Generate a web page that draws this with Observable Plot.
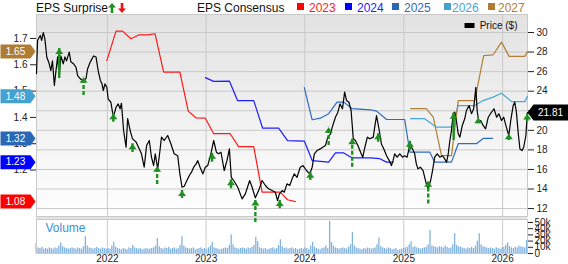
<!DOCTYPE html>
<html><head><meta charset="utf-8">
<script src="https://cdn.jsdelivr.net/npm/d3@7"></script>
<script src="https://cdn.jsdelivr.net/npm/@observablehq/plot@0.6"></script>
<style>
body{margin:0;background:#fff;font-family:"Liberation Sans",Arial,sans-serif;}
#chart{position:relative;width:568px;height:264px;overflow:hidden;background:#fff}
.h{position:absolute;top:1px;font-size:12px;line-height:14px;white-space:nowrap;color:#111}
.sq{position:absolute;top:3px;width:7px;height:7px}
</style></head><body>
<div id="chart">
  <div class="h" style="left:36px">EPS Surprise</div>
  <svg style="position:absolute;left:108px;top:3px" width="8" height="10"><polygon points="4,0 8,4.5 5.3,4.5 5.3,10 2.7,10 2.7,4.5 0,4.5" fill="#1f8f1f"/></svg>
  <svg style="position:absolute;left:118px;top:3px" width="8" height="10"><polygon points="4,10 8,5.5 5.3,5.5 5.3,0 2.7,0 2.7,5.5 0,5.5" fill="#ee1111"/></svg>
  <div class="h" style="left:197px">EPS Consensus</div>
</div>
<script>
// ---------- data ----------
const yearTicks = ["2022-01-01","2023-01-01","2024-01-01","2025-01-01","2026-01-01"];
const priceTicks = [12,14,16,18,20,22,24,26,28,30];
const epsTicks = [1.2,1.3,1.4,1.5,1.6,1.7];
const volumeTicks = [0,10,20,30,40,50];
const lastPrice = 21.81;

const price = [
["2021-04-14",25.8],["2021-04-18",29.2],["2021-04-28",29.7],["2021-05-03",29.2],["2021-05-09",30.0],["2021-05-15",29.35],
["2021-05-22",27.5],["2021-05-31",26.8],["2021-06-06",26.1],["2021-06-12",27.1],["2021-06-19",24.6],["2021-06-25",26.1],
["2021-07-01",27.5],["2021-07-07",25.4],["2021-07-13",27.6],["2021-07-22",26.8],["2021-07-28",27.5],["2021-08-03",27.1],
["2021-08-13",28.0],["2021-08-19",27.0],["2021-08-29",26.8],["2021-09-07",26.45],["2021-09-13",25.6],["2021-09-23",25.26],
["2021-10-05",25.1],["2021-10-14",25.3],["2021-10-20",26.3],["2021-10-30",27.0],["2021-11-11",27.6],["2021-11-20",27.5],
["2021-11-28",26.1],["2021-12-06",25.1],["2021-12-12",24.75],["2021-12-17",24.07],["2021-12-23",24.75],["2021-12-30",24.4],
["2022-01-04",23.2],["2022-01-14",22.87],["2022-01-23",21.34],["2022-02-02",22.36],["2022-02-10",22.7],["2022-02-17",22.2],
["2022-02-22",22.77],["2022-03-02",19.98],["2022-03-11",18.27],["2022-03-17",21.2],["2022-03-26",20.0],["2022-04-04",19.13],
["2022-04-17",18.8],["2022-04-29",18.1],["2022-05-07",17.6],["2022-05-17",16.23],["2022-05-26",18.45],["2022-06-05",18.96],
["2022-06-13",17.25],["2022-06-21",16.4],["2022-06-27",17.6],["2022-07-06",16.06],["2022-07-13",17.6],["2022-07-20",19.3],
["2022-07-30",18.96],["2022-08-12",19.47],["2022-08-24",18.6],["2022-09-05",17.6],["2022-09-18",17.4],["2022-09-26",15.55],
["2022-10-04",14.18],["2022-10-12",14.28],["2022-10-22",14.87],["2022-10-31",15.38],["2022-11-08",15.72],["2022-11-16",16.23],
["2022-11-25",16.57],["2022-12-01",16.9],["2022-12-10",16.2],["2022-12-20",15.55],["2022-12-29",16.23],
["2023-01-07",16.4],["2023-01-17",17.4],["2023-01-29",18.96],["2023-02-08",17.76],["2023-02-16",17.6],["2023-02-25",17.76],
["2023-03-09",15.89],["2023-03-19",16.9],["2023-03-28",18.1],["2023-04-04",15.2],["2023-04-13",14.87],["2023-04-28",14.18],
["2023-05-14",12.99],["2023-05-26",13.5],["2023-06-11",14.87],["2023-06-20",14.18],["2023-07-02",13.1],["2023-07-14",13.84],
["2023-07-27",14.87],["2023-08-08",14.36],["2023-08-20",14.02],["2023-09-02",13.84],["2023-09-14",13.67],["2023-09-22",12.82],
["2023-09-29",13.5],["2023-10-09",13.84],["2023-10-17",13.67],["2023-10-27",14.53],["2023-11-06",14.36],["2023-11-15",15.04],
["2023-11-23",15.55],["2023-12-03",15.2],["2023-12-15",16.23],["2023-12-25",16.4],
["2024-01-07",15.89],["2024-01-19",15.55],["2024-01-28",16.23],["2024-02-05",17.6],["2024-02-15",17.93],["2024-02-27",18.1],
["2024-03-11",18.34],["2024-03-17",18.45],["2024-03-26",19.3],["2024-04-05",19.64],["2024-04-11",20.3],["2024-04-23",21.34],
["2024-05-02",21.85],["2024-05-10",22.7],["2024-05-19",22.2],["2024-05-27",23.9],["2024-06-03",23.05],["2024-06-12",22.87],
["2024-06-20",22.0],["2024-06-28",19.13],["2024-07-06",18.96],["2024-07-15",18.45],["2024-07-25",17.76],["2024-08-02",17.25],
["2024-08-10",18.27],["2024-08-19",19.3],["2024-08-28",19.13],["2024-09-10",19.3],["2024-09-15",20.3],["2024-09-22",21.5],
["2024-10-02",19.98],["2024-10-10",18.6],["2024-10-19",18.1],["2024-10-29",17.4],["2024-11-08",16.9],["2024-11-16",16.4],
["2024-11-22",16.9],["2024-11-28",17.6],["2024-12-07",17.25],["2024-12-17",17.6],["2024-12-27",17.25],
["2025-01-04",17.4],["2025-01-13",17.25],["2025-01-23",18.45],["2025-02-02",18.1],["2025-02-10",17.6],["2025-02-16",16.57],
["2025-02-22",16.06],["2025-03-03",16.23],["2025-03-13",15.89],["2025-03-19",15.2],["2025-03-25",14.53],["2025-04-01",14.02],
["2025-04-10",14.87],["2025-04-17",15.89],["2025-04-25",17.25],["2025-05-04",17.6],["2025-05-14",17.25],["2025-05-24",17.4],
["2025-06-01",17.08],["2025-06-08",16.74],["2025-06-14",17.6],["2025-06-20",18.96],["2025-06-26",19.98],["2025-07-02",21.7],
["2025-07-08",21.85],["2025-07-14",21.0],["2025-07-21",19.64],["2025-07-27",19.3],["2025-08-05",20.5],["2025-08-14",21.18],
["2025-08-20",22.0],["2025-08-30",22.53],["2025-09-08",21.7],["2025-09-16",22.2],["2025-09-24",24.4],["2025-09-29",22.0],
["2025-10-04",21.0],["2025-10-12",21.0],["2025-10-21",20.5],["2025-10-30",20.15],["2025-11-09",21.34],["2025-11-17",21.7],
["2025-11-25",22.0],["2025-11-30",22.2],["2025-12-10",21.34],["2025-12-18",21.7],["2025-12-28",21.0],
["2026-01-05",21.34],["2026-01-15",20.3],["2026-01-24",19.47],["2026-01-31",21.0],["2026-02-09",22.53],["2026-02-15",22.87],
["2026-02-21",21.85],["2026-02-28",19.64],["2026-03-06",18.1],["2026-03-14",17.93],["2026-03-20",18.27],["2026-03-28",19.47],
["2026-04-01",21.18],["2026-04-03",21.81]
];

const eps2023 = [["2021-12-30",1.616],["2022-02-02",1.728],["2022-02-26",1.728],["2022-03-29",1.699],["2022-04-29",1.714],
["2022-05-30",1.714],["2022-06-26",1.718],["2022-07-28",1.572],["2022-09-26",1.572],["2022-10-27",1.424],["2022-11-25",1.398],
["2022-12-29",1.397],["2023-01-29",1.338],["2023-03-31",1.338],["2023-05-01",1.289],["2023-06-26",1.289],["2023-07-27",1.116],
["2023-10-02",1.116],["2023-10-29",1.087],["2023-11-27",1.08]];
const eps2024 = [["2022-12-29",1.551],["2023-01-29",1.537],["2023-03-28",1.538],["2023-04-27",1.464],["2023-06-26",1.464],
["2023-07-29",1.359],["2023-09-26",1.359],["2023-10-29",1.312],["2023-12-30",1.31],["2024-01-28",1.236],["2024-03-29",1.23],
["2024-04-23",1.265],["2024-05-24",1.265],["2024-06-24",1.246],["2024-08-31",1.246],["2024-10-04",1.243],["2024-10-29",1.23],
["2024-11-22",1.23]];
const eps2025 = [["2023-12-30",1.513],["2024-01-28",1.391],["2024-02-27",1.397],["2024-03-29",1.414],["2024-04-29",1.458],
["2024-05-24",1.458],["2024-06-24",1.433],["2024-08-31",1.429],["2024-09-22",1.424],["2024-10-29",1.392],["2025-01-04",1.392],
["2025-01-23",1.268],["2025-04-07",1.268],["2025-04-25",1.23],["2025-06-26",1.23],["2025-07-21",1.30],["2025-09-26",1.30],
["2025-10-21",1.32],["2025-11-25",1.32]];
const eps2026 = [["2025-01-26",1.395],["2025-03-19",1.395],["2025-05-01",1.363],["2025-06-26",1.363],["2025-07-21",1.445],
["2025-09-20",1.445],["2025-10-21",1.464],["2025-11-27",1.477],["2025-12-28",1.492],["2026-02-03",1.46],["2026-03-24",1.46],
["2026-04-03",1.48]];
const eps2027 = [["2025-01-26",1.433],["2025-03-25",1.433],["2025-04-20",1.40],["2025-05-20",1.255],["2025-06-26",1.255],
["2025-07-21",1.464],["2025-09-20",1.464],["2025-10-23",1.635],["2025-11-27",1.638],["2025-12-28",1.686],["2026-01-25",1.632],
["2026-03-24",1.632],["2026-04-03",1.65]];
const consensusYears = ["2023","2024","2025","2026","2027"];
const consensusLatest = [1.08,1.23,1.32,1.48,1.65];

const surpriseDates = ["2021-07-07","2021-10-05","2022-01-23","2022-04-04","2022-07-04","2022-10-04","2023-01-23","2023-04-03",
"2023-07-02","2023-09-30","2024-01-21","2024-03-29","2024-06-24","2024-09-28","2025-01-23","2025-04-01","2025-07-04",
"2025-10-03","2026-01-24","2026-04-02"];
const surpriseHigh = [28.36,25.43,21.69,18.62,16.33,13.84,17.66,14.94,12.87,12.82,15.72,20.32,19.13,19.64,18.89,14.8,21.75,21.28,19.64,21.67];
const surpriseLow  = [25.3,23.56,20.83,17.73,14.46,13.03,16.74,14.02,10.57,11.97,14.87,18.45,16.23,18.78,17.93,12.48,18.96,20.66,18.96,20.9];
const surpriseSolid = [true,false,false,false,false,false,false,false,false,false,false,false,false,false,false,false,true,false,false,false];

const volumeStart = "2021-04-14";
const volumeK = [
16,9,8,10,7,8,7,9,8,7,9,8,12,17,11,9,8,7,8,9,
8,7,9,8,7,11,27,12,9,8,7,8,10,8,7,9,8,7,8,7,
12,18,10,8,7,6,8,7,6,9,8,13,9,8,7,8,6,7,8,7,
7,8,9,12,24,11,8,7,9,8,10,7,8,9,7,8,13,27,12,9,
8,7,8,9,6,7,8,9,7,8,6,9,12,18,9,8,7,6,7,8,
9,8,13,30,14,9,8,7,8,9,8,7,9,8,10,13,26,19,9,8,
7,8,6,7,8,9,7,8,13,22,11,8,9,7,8,9,7,8,6,7,
8,7,9,8,6,12,18,10,8,7,6,8,9,12,8,52,18,12,9,8,
7,8,9,8,7,10,14,34,12,9,8,7,6,8,7,9,8,7,8,9,
14,25,11,9,8,7,9,8,6,7,8,5,6,7,8,9,10,14,19,10,
11,9,8,7,8,9,10,14,37,12,11,10,9,11,10,9,12,10,8,9,
14,32,13,11,10,9,8,7,9,8,10,8,12,20,32,14,11,10,9,8,
9,8,7,9,8,7,9,10,13,17,11,9,8,10,9,12,11,10,9,21];

// ---------- styling ----------
const colors = {"2023":"#ff1a1a","2024":"#1e1efa","2025":"#2d6cc0","2026":"#47a6d6","2027":"#b27e36"};
const badgeColors = {"2023":"#ff0000","2024":"#0000ff","2025":"#2a67b5","2026":"#44a2d2","2027":"#b07b33"};
const green = "#1f8f1f";
const font = "'Liberation Sans', Arial, sans-serif";

const parse = d3.utcParse("%Y-%m-%d");
const xDomain = [parse("2021-04-14"), parse("2026-04-03")];
const years = yearTicks.map(parse);
// EPS (left axis) mapped onto the price scale
const epsToPrice = d3.scaleLinear([1.1, 1.7], [13.25, 29.39]);

const priceData = price.map(([d, v]) => ({date: parse(d), value: v}));
const consData = consensusYears.map((yr, i) =>
  [eps2023, eps2024, eps2025, eps2026, eps2027][i].map(([d, v]) => ({year: yr, date: parse(d), value: epsToPrice(v)})));
const badges = consensusYears.map((yr, i) => ({year: yr, v: consensusLatest[i]}));
const surprises = surpriseDates.map((d, i) => ({date: parse(d), hi: surpriseHigh[i], lo: surpriseLow[i], solid: surpriseSolid[i]}));
const volData = volumeK.map((v, i) => ({date: d3.utcDay.offset(parse(volumeStart), 7 * i), v}));

const leftBadge = {draw(c) { c.moveTo(-36,-7); c.lineTo(-6,-7); c.lineTo(-1,0); c.lineTo(-6,7); c.lineTo(-36,7); c.closePath(); }};
const rightBadge = {draw(c) { c.moveTo(0,0); c.lineTo(6,-8); c.lineTo(41,-8); c.lineTo(41,8); c.lineTo(6,8); c.closePath(); }};
const arrowHead = {draw(c) { c.moveTo(0,0); c.lineTo(4,5.5); c.lineTo(-4,5.5); c.closePath(); }};
const swatch = {draw(c) { c.rect(-5,-2.5,10,5); }};

const grid = "#c9c9c9";

const main = Plot.plot({
  width: 568, height: 217,
  marginTop: 14, marginBottom: 1, marginLeft: 36, marginRight: 41,
  style: {fontFamily: font, fontSize: "10px", color: "#222", background: "transparent"},
  x: {type: "utc", domain: xDomain, axis: null},
  y: {domain: [11.19, 31.84], axis: null},
  color: {type: "identity"},
  marks: [
    Plot.frame({fill: "url(#bgGrad)"}),
    Plot.gridY(priceTicks, {stroke: grid, strokeOpacity: 1}),
    Plot.gridX(years, {stroke: grid, strokeOpacity: 1}),
    Plot.frame({stroke: grid}),
    ...consData.map((s, i) => Plot.line(s, {x: "date", y: "value", stroke: colors[consensusYears[i]], strokeWidth: 1.2})),
    Plot.line(priceData, {x: "date", y: "value", stroke: "#000", strokeWidth: 1.2}),
    Plot.ruleX(surprises.filter(d => d.solid), {x: "date", y1: "lo", y2: "hi", stroke: green, strokeWidth: 2.4}),
    Plot.ruleX(surprises.filter(d => !d.solid), {x: "date", y1: "lo", y2: "hi", stroke: green, strokeWidth: 2.4, strokeDasharray: "4,2"}),
    Plot.dot(surprises, {x: "date", y: "hi", symbol: arrowHead, r: 3, fill: green, stroke: "none"}),
    Plot.axisY(priceTicks, {anchor: "right", tickSize: 6, tickPadding: 3, fontSize: 10, label: null}),
    Plot.axisY(epsTicks.map(epsToPrice), {anchor: "left", tickSize: 6, tickPadding: 3, fontSize: 10, label: null,
      tickFormat: d => epsToPrice.invert(d).toFixed(1)}),
    Plot.dot(badges, {x: () => xDomain[0], y: d => epsToPrice(d.v), symbol: leftBadge, r: 3, fill: d => badgeColors[d.year], stroke: "none"}),
    Plot.text(badges, {x: () => xDomain[0], y: d => epsToPrice(d.v), dx: -21, text: d => d.v.toFixed(2), fill: "white", fontSize: 10}),
    Plot.dot([lastPrice], {x: () => xDomain[1], y: d => d, symbol: rightBadge, r: 3, fill: "#000", stroke: "none"}),
    Plot.text([lastPrice], {x: () => xDomain[1], y: d => d, dx: 23, text: d => d.toFixed(2), fill: "white", fontSize: 10}),
    Plot.dot(["Price ($)"], {frameAnchor: "top-right", dx: -58, dy: 11, symbol: swatch, r: 3, fill: "#000", stroke: "none"}),
    Plot.text(["Price ($)"], {frameAnchor: "top-right", dx: -10, dy: 11, text: d => d, textAnchor: "end", lineAnchor: "middle", fontSize: 10, fill: "#111"})
  ]
});
d3.select(main).insert("defs", ":first-child").html(
  '<linearGradient id="bgGrad" x1="0" y1="0" x2="0" y2="1"><stop offset="0" stop-color="#e2e2e2"/><stop offset="1" stop-color="#ffffff"/></linearGradient>');

const vol = Plot.plot({
  width: 568, height: 48,
  marginTop: 3, marginBottom: 11, marginLeft: 36, marginRight: 41,
  style: {fontFamily: font, fontSize: "10px", color: "#222", background: "white"},
  x: {type: "utc", domain: xDomain, axis: null},
  y: {domain: [0, 54.8], axis: null},
  marks: [
    Plot.gridX(years, {stroke: grid, strokeOpacity: 1}),
    Plot.rectY(volData, {x: "date", y: "v", interval: "week", fill: "#80b2e0", insetLeft: 0.3, insetRight: 0.3}),
    Plot.frame({stroke: grid}),
    Plot.axisY(volumeTicks, {anchor: "right", tickSize: 5, tickPadding: 2, fontSize: 10, label: null,
      tickFormat: d => d === 0 ? "0" : d + "k"}),
    Plot.axisX(years, {anchor: "bottom", tickSize: 0, tickPadding: 1.5, fontSize: 10, label: null, tickFormat: d3.utcFormat("%Y")}),
    Plot.text(["Volume"], {frameAnchor: "top-left", dx: 9, dy: 9, text: d => d, lineAnchor: "middle", fill: "#3b8fd6", fontSize: 12})
  ]
});

const chart = document.getElementById("chart");
function place(svg, top) {
  svg.style.position = "absolute";
  svg.style.left = "0px";
  svg.style.top = top + "px";
  svg.style.overflow = "visible";
  svg.style.maxWidth = "none";
}
place(vol, 216);
chart.appendChild(vol);
const band = document.createElement("div");
band.style.cssText = "position:absolute;left:36px;top:217px;width:491px;height:2px;background:#e3e3e3";
chart.appendChild(band);
place(main, 0);
chart.appendChild(main);

// header legend
const sqLeft = [297, 345, 392, 444, 488], txtLeft = [309, 357, 404, 452, 498];
consensusYears.forEach((yr, i) => {
  const s = document.createElement("div"); s.className = "sq";
  s.style.left = sqLeft[i] + "px"; s.style.background = badgeColors[yr]; chart.appendChild(s);
  const t = document.createElement("div"); t.className = "h";
  t.style.left = txtLeft[i] + "px"; t.style.color = colors[yr]; t.textContent = yr; chart.appendChild(t);
});
</script></body></html>
